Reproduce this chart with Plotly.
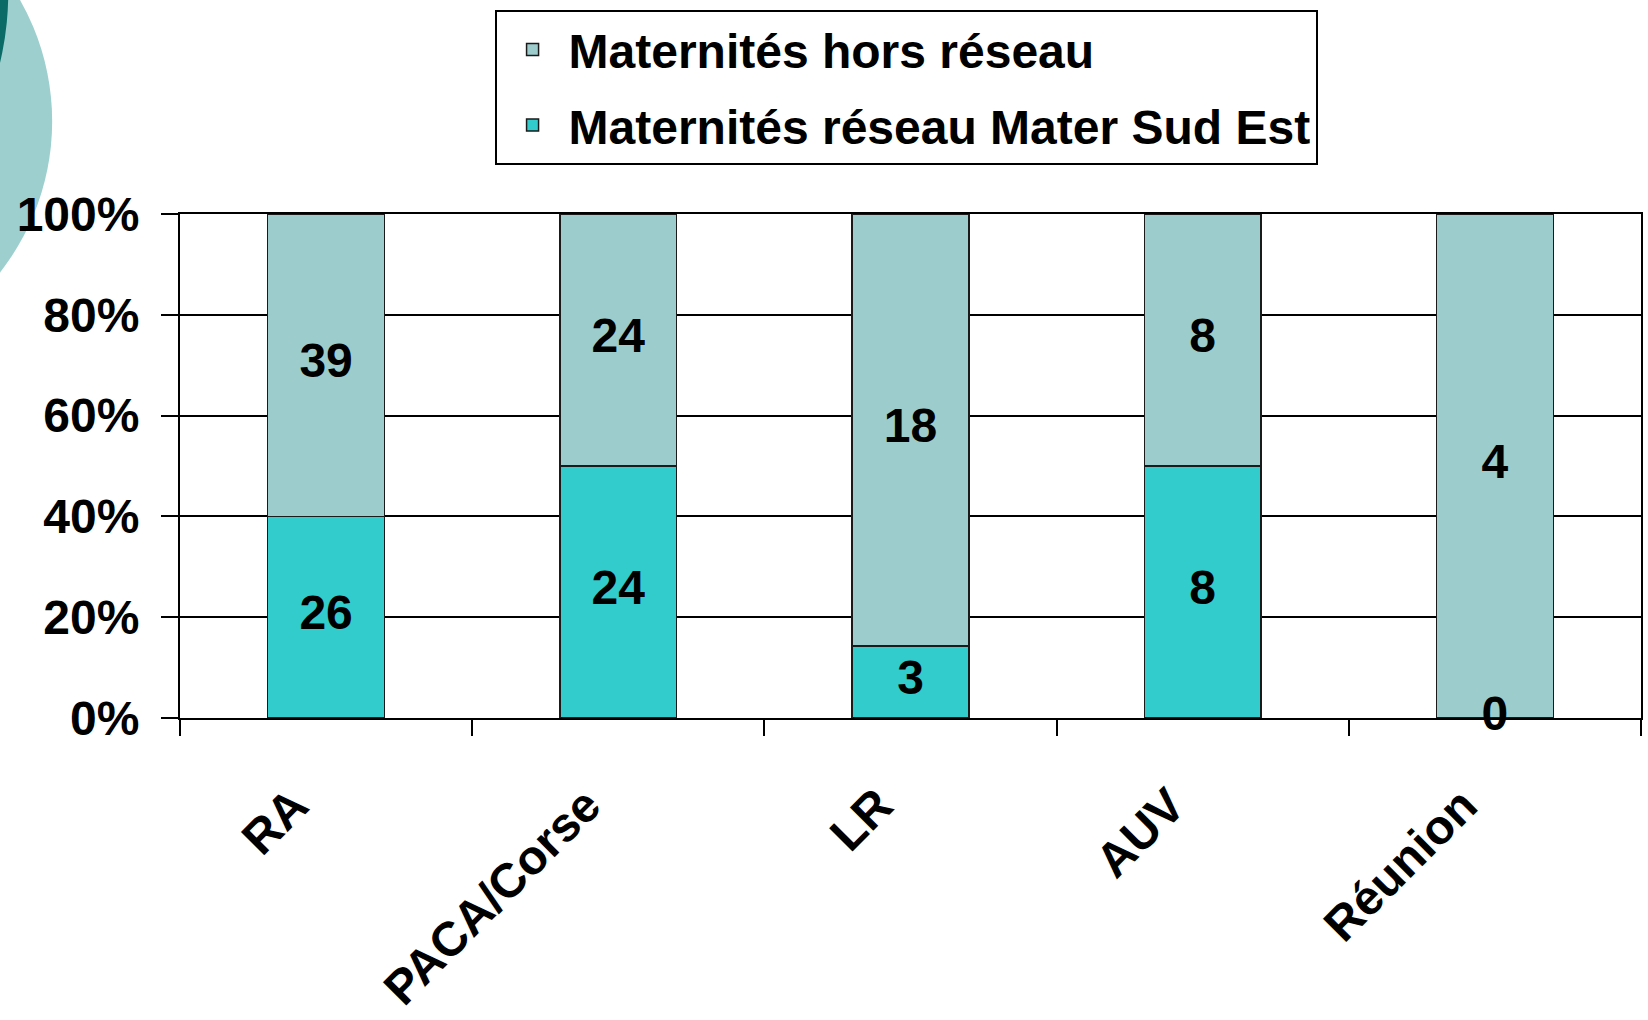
import plotly.graph_objects as go

# regions and counts of maternity units
regions = ["RA", "PACA/Corse", "LR", "AUV", "Réunion"]
reseau = [26, 24, 3, 8, 0]
hors_reseau = [39, 24, 18, 8, 4]

name_reseau = "Maternités réseau Mater Sud Est"
name_hors = "Maternités hors réseau"
y_ticks = [0, 20, 40, 60, 80, 100]
y_ticktext = [f"{v}%" for v in y_ticks]

# share of each group per region (100% stacked)
totals = [a + b for a, b in zip(reseau, hors_reseau)]
pct_reseau = [100 * a / t for a, t in zip(reseau, totals)]
pct_hors = [100 * b / t for b, t in zip(hors_reseau, totals)]

# label positions = middle of each segment
mid_reseau = [p / 2 for p in pct_reseau]
mid_hors = [p + q / 2 for p, q in zip(pct_reseau, pct_hors)]

W, H = 1648, 1020
L, R, T, B = 180, 5, 214, 295
pw, ph = W - L - R, H - T - B


def px_x(x):
    return (x - L) / pw


def px_y(y):
    return (H - B - y) / ph


FONT = "Liberation Sans, Arial, sans-serif"
bar_line = dict(color="#1a1a1a", width=1.5)

fig = go.Figure()
fig.add_trace(go.Bar(
    x=regions, y=pct_reseau, name=name_reseau,
    marker=dict(color="#33CCCC", line=bar_line),
    legendgroup="a", legendrank=2, hoverinfo="skip"
))
fig.add_trace(go.Bar(
    x=regions, y=pct_hors, name=name_hors,
    marker=dict(color="#9CCCCC", line=bar_line),
    legendgroup="b", legendrank=1, hoverinfo="skip"
))

# the count labels
fig.add_trace(go.Scatter(
    x=regions + regions,
    y=mid_reseau + mid_hors,
    text=[str(v) for v in reseau + hors_reseau],
    mode="text",
    textfont=dict(family=FONT, size=48, color="black", weight="bold"),
    cliponaxis=False,
    showlegend=False,
    hoverinfo="skip"
))

# decorative circle in top-left corner
fig.add_shape(type="circle", xref="paper", yref="paper", layer="below",
              x0=px_x(-450), x1=px_x(52), y0=px_y(371), y1=px_y(-131),
              fillcolor="#9ECFCF", line=dict(width=0))
fig.add_shape(type="circle", xref="paper", yref="paper", layer="below",
              x0=px_x(-608), x1=px_x(8), y0=px_y(298), y1=px_y(-318),
              fillcolor="#0B6B66", line=dict(width=0))

fig.update_layout(
    width=W, height=H,
    margin=dict(l=L, r=R, t=T, b=B),
    paper_bgcolor="white",
    plot_bgcolor="white",
    barmode="stack",
    bargap=0.6,
    font=dict(family=FONT, size=48, color="black", weight="bold"),
    legend=dict(
        x=px_x(495), y=px_y(7), xanchor="left", yanchor="top",
        traceorder="grouped", tracegroupgap=10, itemwidth=62,
        bordercolor="black", borderwidth=2, bgcolor="white",
        font=dict(family=FONT, size=48, color="black", weight="bold")
    ),
    showlegend=True
)

fig.update_xaxes(
    showline=True, linecolor="black", linewidth=2, mirror=True,
    ticks="outside", tickson="boundaries", ticklen=16, tickwidth=2, tickcolor="black",
    tickangle=-45, ticklabelstandoff=38, ticklabelshift=-32,
    tickfont=dict(family=FONT, size=48, color="black", weight="bold"),
    showgrid=False
)
fig.update_yaxes(
    range=[0, 100], tickvals=y_ticks, ticktext=y_ticktext,
    showline=True, linecolor="black", linewidth=2, mirror=True,
    ticks="outside", ticklen=17, tickwidth=2, tickcolor="black",
    ticklabelstandoff=12,
    showgrid=True, gridcolor="black", gridwidth=2,
    zeroline=False,
    tickfont=dict(family=FONT, size=48, color="black", weight="bold")
)

fig.write_html("out.html", config={"displayModeBar": False},
               post_script="document.body.style.margin='0';")
